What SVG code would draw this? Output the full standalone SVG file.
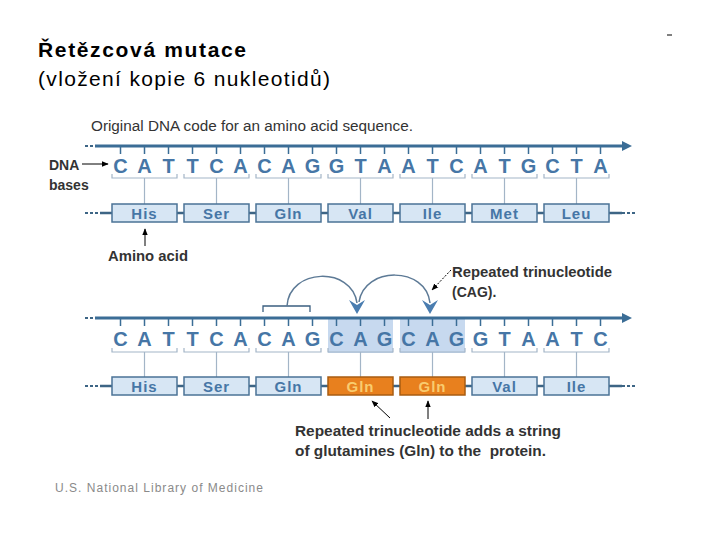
<svg xmlns="http://www.w3.org/2000/svg" width="720" height="540" viewBox="0 0 720 540">
<style>
.title{font-family:"Liberation Sans",Arial,sans-serif;fill:#000}
.lbl{font-family:"Liberation Sans",Arial,sans-serif;font-weight:bold;fill:#333;font-size:14px}
.base{font-family:"Liberation Sans",Arial,sans-serif;font-weight:bold;fill:#4676a6;font-size:20px;text-anchor:middle}
.aa{font-family:"Liberation Sans",Arial,sans-serif;font-weight:bold;fill:#4676a6;font-size:15px;text-anchor:middle;letter-spacing:1px}
.aao{font-family:"Liberation Sans",Arial,sans-serif;font-weight:bold;fill:#f9cc6e;font-size:15px;text-anchor:middle;letter-spacing:1px}
.box{fill:#d7e6f4;stroke:#4b7396;stroke-width:1.5}
.obox{fill:#e8801e;stroke:#a85c12;stroke-width:1.5}
.strand{stroke:#3b6d96;stroke-width:3;fill:none}
.tick{stroke:#3b6d96;stroke-width:1.5}
.br{stroke:#a3b5c7;stroke-width:1.2;fill:none}
.vl{stroke:#a3b5c7;stroke-width:1.2}
.link{stroke:#3d6585;stroke-width:2.5}
.dash{stroke:#3d6585;stroke-width:2;stroke-dasharray:3,2}
.arc{stroke:#5d7a96;stroke-width:1.5;fill:none}
.ahead{fill:#4a7db0}
.ptr{stroke:#000;stroke-width:1;fill:none}
</style>
<defs>
<marker id="ah" viewBox="0 0 10 10" refX="9" refY="5" markerWidth="7" markerHeight="7" orient="auto-start-reverse">
<path d="M0,1 L10,5 L0,9 z" fill="#000"/>
</marker>
<g id="ticks">
<line class="tick" x1="120.5" y1="0" x2="120.5" y2="8"/><line class="tick" x1="144.5" y1="0" x2="144.5" y2="8"/><line class="tick" x1="168.5" y1="0" x2="168.5" y2="8"/>
<line class="tick" x1="192.5" y1="0" x2="192.5" y2="8"/><line class="tick" x1="216.5" y1="0" x2="216.5" y2="8"/><line class="tick" x1="240.5" y1="0" x2="240.5" y2="8"/>
<line class="tick" x1="264.5" y1="0" x2="264.5" y2="8"/><line class="tick" x1="288.5" y1="0" x2="288.5" y2="8"/><line class="tick" x1="312.5" y1="0" x2="312.5" y2="8"/>
<line class="tick" x1="336.5" y1="0" x2="336.5" y2="8"/><line class="tick" x1="360.5" y1="0" x2="360.5" y2="8"/><line class="tick" x1="384.5" y1="0" x2="384.5" y2="8"/>
<line class="tick" x1="408.5" y1="0" x2="408.5" y2="8"/><line class="tick" x1="432.5" y1="0" x2="432.5" y2="8"/><line class="tick" x1="456.5" y1="0" x2="456.5" y2="8"/>
<line class="tick" x1="480.5" y1="0" x2="480.5" y2="8"/><line class="tick" x1="504.5" y1="0" x2="504.5" y2="8"/><line class="tick" x1="528.5" y1="0" x2="528.5" y2="8"/>
<line class="tick" x1="552.5" y1="0" x2="552.5" y2="8"/><line class="tick" x1="576.5" y1="0" x2="576.5" y2="8"/><line class="tick" x1="600.5" y1="0" x2="600.5" y2="8"/>
</g>
<g id="brackets">
<path class="br" d="M112,-4 V0 H177 V-4"/><path class="br" d="M184,-4 V0 H249 V-4"/><path class="br" d="M256,-4 V0 H321 V-4"/>
<path class="br" d="M328,-4 V0 H393 V-4"/><path class="br" d="M400,-4 V0 H465 V-4"/><path class="br" d="M472,-4 V0 H537 V-4"/>
<path class="br" d="M544,-4 V0 H609 V-4"/>
<line class="vl" x1="144.5" y1="0" x2="144.5" y2="26"/><line class="vl" x1="216.5" y1="0" x2="216.5" y2="26"/><line class="vl" x1="288.5" y1="0" x2="288.5" y2="26"/>
<line class="vl" x1="360.5" y1="0" x2="360.5" y2="26"/><line class="vl" x1="432.5" y1="0" x2="432.5" y2="26"/><line class="vl" x1="504.5" y1="0" x2="504.5" y2="26"/>
<line class="vl" x1="576.5" y1="0" x2="576.5" y2="26"/>
</g>
<g id="chain">
<line class="dash" x1="85" y1="0" x2="100" y2="0"/><line class="link" x1="100" y1="0" x2="622" y2="0"/><line class="dash" x1="622" y1="0" x2="637" y2="0"/>
</g>
</defs>

<rect width="720" height="540" fill="#fff"/>

<g id="heading">
<text class="title" x="38" y="57" font-size="21" font-weight="bold" textLength="208" lengthAdjust="spacing">Řetězcová mutace</text>
<text class="title" x="38" y="86" font-size="21" textLength="292" lengthAdjust="spacing">(vložení kopie 6 nukleotidů)</text>
<line x1="667" y1="35" x2="672" y2="35" stroke="#000" stroke-width="1"/>
</g>

<g id="original">
<text x="91" y="131" font-family="Liberation Sans, Arial, sans-serif" font-size="14" fill="#333" textLength="322" lengthAdjust="spacingAndGlyphs">Original DNA code for an amino acid sequence.</text>
<g id="strand1">
<line class="dash" x1="85" y1="146" x2="95" y2="146"/>
<line class="strand" x1="95" y1="146" x2="624" y2="146"/>
<polygon points="622,141 632,146 622,151" fill="#3b6d96"/>
<use href="#ticks" y="146"/>
<g class="base-row">
<text class="base" x="120.5" y="173">C</text><text class="base" x="144.5" y="173">A</text><text class="base" x="168.5" y="173">T</text>
<text class="base" x="192.5" y="173">T</text><text class="base" x="216.5" y="173">C</text><text class="base" x="240.5" y="173">A</text>
<text class="base" x="264.5" y="173">C</text><text class="base" x="288.5" y="173">A</text><text class="base" x="312.5" y="173">G</text>
<text class="base" x="336.5" y="173">G</text><text class="base" x="360.5" y="173">T</text><text class="base" x="384.5" y="173">A</text>
<text class="base" x="408.5" y="173">A</text><text class="base" x="432.5" y="173">T</text><text class="base" x="456.5" y="173">C</text>
<text class="base" x="480.5" y="173">A</text><text class="base" x="504.5" y="173">T</text><text class="base" x="528.5" y="173">G</text>
<text class="base" x="552.5" y="173">C</text><text class="base" x="576.5" y="173">T</text><text class="base" x="600.5" y="173">A</text>
</g>
<use href="#brackets" y="178"/>
</g>
<use href="#chain" y="213"/>
<g id="aa1-his"><rect class="box" x="112" y="204" width="65" height="18"/><text class="aa" x="144.5" y="218.5">His</text></g>
<g id="aa1-ser"><rect class="box" x="184" y="204" width="65" height="18"/><text class="aa" x="216.5" y="218.5">Ser</text></g>
<g id="aa1-gln"><rect class="box" x="256" y="204" width="65" height="18"/><text class="aa" x="288.5" y="218.5">Gln</text></g>
<g id="aa1-val"><rect class="box" x="328" y="204" width="65" height="18"/><text class="aa" x="360.5" y="218.5">Val</text></g>
<g id="aa1-ile"><rect class="box" x="400" y="204" width="65" height="18"/><text class="aa" x="432.5" y="218.5">Ile</text></g>
<g id="aa1-met"><rect class="box" x="472" y="204" width="65" height="18"/><text class="aa" x="504.5" y="218.5">Met</text></g>
<g id="aa1-leu"><rect class="box" x="544" y="204" width="65" height="18"/><text class="aa" x="576.5" y="218.5">Leu</text></g>
<g id="lbl-dna">
<text class="lbl" x="49" y="170" font-size="15">DNA</text>
<text class="lbl" x="49" y="190" font-size="15">bases</text>
</g>
<g id="lbl-aa"><text class="lbl" x="108" y="261" textLength="80" lengthAdjust="spacingAndGlyphs">Amino acid</text></g>
</g>

<g id="mutated">
<rect x="328" y="319" width="65" height="34" fill="#c7d9ef"/>
<rect x="400" y="319" width="65" height="34" fill="#c7d9ef"/>
<g id="strand2">
<line class="dash" x1="85" y1="318" x2="95" y2="318"/>
<line class="strand" x1="95" y1="318" x2="624" y2="318"/>
<polygon points="622,313 632,318 622,323" fill="#3b6d96"/>
<use href="#ticks" y="318"/>
<g class="base-row">
<text class="base" x="120.5" y="346">C</text><text class="base" x="144.5" y="346">A</text><text class="base" x="168.5" y="346">T</text>
<text class="base" x="192.5" y="346">T</text><text class="base" x="216.5" y="346">C</text><text class="base" x="240.5" y="346">A</text>
<text class="base" x="264.5" y="346">C</text><text class="base" x="288.5" y="346">A</text><text class="base" x="312.5" y="346">G</text>
<text class="base" x="336.5" y="346">C</text><text class="base" x="360.5" y="346">A</text><text class="base" x="384.5" y="346">G</text>
<text class="base" x="408.5" y="346">C</text><text class="base" x="432.5" y="346">A</text><text class="base" x="456.5" y="346">G</text>
<text class="base" x="480.5" y="346">G</text><text class="base" x="504.5" y="346">T</text><text class="base" x="528.5" y="346">A</text>
<text class="base" x="552.5" y="346">A</text><text class="base" x="576.5" y="346">T</text><text class="base" x="600.5" y="346">C</text>
</g>
<use href="#brackets" y="352"/>
</g>
<use href="#chain" y="386"/>
<g id="aa2-his"><rect class="box" x="112" y="377" width="65" height="18"/><text class="aa" x="144.5" y="391.5">His</text></g>
<g id="aa2-ser"><rect class="box" x="184" y="377" width="65" height="18"/><text class="aa" x="216.5" y="391.5">Ser</text></g>
<g id="aa2-gln"><rect class="box" x="256" y="377" width="65" height="18"/><text class="aa" x="288.5" y="391.5">Gln</text></g>
<g id="aa2-gln2"><rect class="obox" x="328" y="377" width="65" height="18"/><text class="aao" x="360.5" y="391.5">Gln</text></g>
<g id="aa2-gln3"><rect class="obox" x="400" y="377" width="65" height="18"/><text class="aao" x="432.5" y="391.5">Gln</text></g>
<g id="aa2-val"><rect class="box" x="472" y="377" width="65" height="18"/><text class="aa" x="504.5" y="391.5">Val</text></g>
<g id="aa2-ile"><rect class="box" x="544" y="377" width="65" height="18"/><text class="aa" x="576.5" y="391.5">Ile</text></g>

<g id="lbl-repeat">
<text class="lbl" x="452" y="277" font-size="13" textLength="160" lengthAdjust="spacingAndGlyphs">Repeated trinucleotide</text>
<text class="lbl" x="452" y="297" font-size="13">(CAG).</text>
</g>
<g id="lbl-glut">
<text class="lbl" x="295" y="436" textLength="266" lengthAdjust="spacingAndGlyphs">Repeated trinucleotide adds a string</text>
<text class="lbl" x="295" y="456" textLength="251" lengthAdjust="spacingAndGlyphs" xml:space="preserve">of glutamines (Gln) to the  protein.</text>
</g>
</g>

<g id="connectors">
<line class="ptr" x1="82" y1="164" x2="108" y2="164" marker-end="url(#ah)"/>
<line class="ptr" x1="145" y1="246" x2="145" y2="229" marker-end="url(#ah)"/>
<path d="M263,312 V306 H310 V312" stroke="#3b5f80" stroke-width="1.3" fill="none"/>
<path class="arc" d="M287,306 C289,268 352,266 357,303"/>
<polygon class="ahead" points="349,300 357,305 365,300 357,314"/>
<path class="arc" d="M359,302 C364,266 426,266 430,303"/>
<polygon class="ahead" points="422,300 430,305 438,300 430,314"/>
<line class="ptr" x1="451" y1="270" x2="432" y2="290" stroke-dasharray="2,1.5" marker-end="url(#ah)"/>
<line class="ptr" x1="390" y1="418" x2="372" y2="401" marker-end="url(#ah)"/>
<line class="ptr" x1="428" y1="419" x2="428" y2="401" marker-end="url(#ah)"/>
</g>

<text x="55" y="492" font-family="Liberation Sans, Arial, sans-serif" font-size="12" fill="#8a8a8a" textLength="208" lengthAdjust="spacing">U.S. National Library of Medicine</text>
</svg>
